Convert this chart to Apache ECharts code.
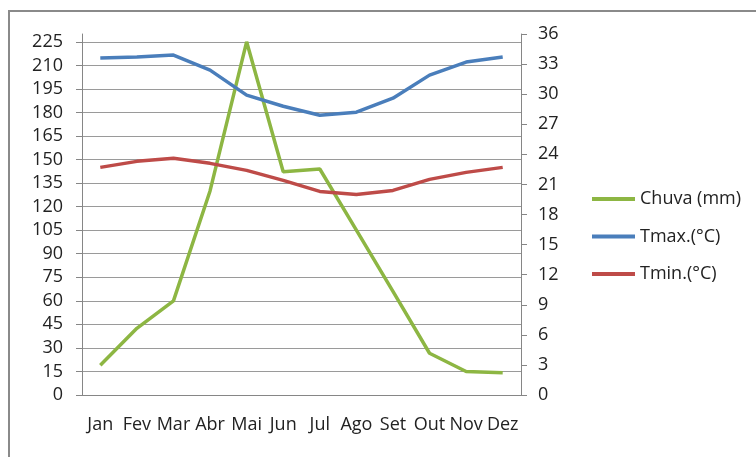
<!DOCTYPE html>
<html><head><meta charset="utf-8">
<script src="https://cdn.jsdelivr.net/npm/echarts@6/dist/echarts.min.js"></script>
<style>html,body{margin:0;padding:0;background:#fff}#c{width:756px;height:457px}</style>
</head><body><div id="c"></div>
<script>
const months = ['Jan','Fev','Mar','Abr','Mai','Jun','Jul','Ago','Set','Out','Nov','Dez'];
const chuva = [19, 42.5, 60, 130, 225, 142.3, 144, 105, 66, 26.6, 15, 14.2];
const tmax = [33.6, 33.7, 33.9, 32.4, 29.9, 28.8, 27.9, 28.2, 29.6, 31.9, 33.2, 33.7];
const tmin = [22.7, 23.3, 23.6, 23.1, 22.4, 21.4, 20.3, 20.0, 20.4, 21.5, 22.2, 22.7];
const names = ['Chuva (mm)', 'Tmax.(°C)', 'Tmin.(°C)'];

const chart = echarts.init(document.getElementById('c'));
const axisCol = '#868686';
const font = 'Open Sans';
chart.setOption({
  animation: false,
  textStyle: {fontFamily: font},
  graphic: [{type:'rect', shape:{x:9, y:11, width:800, height:500}, style:{fill:'none', stroke:'#8a8a8a', lineWidth:2}, silent:true}],
  grid: {left: 82, right: 235, top: 34, bottom: 62},
  legend: {
    orient: 'vertical', left: 592, top: 189, padding: 0,
    icon: 'rect', itemWidth: 43, itemHeight: 4, itemGap: 17.5,
    textStyle: {fontFamily: font, fontSize: 18, color: '#222', lineHeight: 20},
    data: names
  },
  xAxis: {
    type: 'category', data: months, boundaryGap: true,
    axisLine: {lineStyle: {color: axisCol}},
    axisTick: {length: 6, lineStyle: {color: axisCol}},
    axisLabel: {fontFamily: font, fontSize: 18, color: '#222', margin: 21, interval: 0}
  },
  yAxis: [{
    type: 'value', min: 0, max: 230, interval: 15,
    axisLine: {show: true, lineStyle: {color: axisCol}},
    axisTick: {show: true, length: 6, lineStyle: {color: axisCol}},
    axisLabel: {fontFamily: font, fontSize: 18, color: '#222', margin: 19, showMaxLabel: false},
    splitLine: {show: true, showMaxLine: false, lineStyle: {color: '#9a9a9a', width: 1}}
  }, {
    type: 'value', min: 0, max: 36, interval: 3, position: 'right',
    axisLine: {show: true, lineStyle: {color: axisCol}},
    axisTick: {show: true, length: 6, lineStyle: {color: axisCol}},
    axisLabel: {fontFamily: font, fontSize: 18, color: '#222', margin: 17},
    splitLine: {show: false}
  }],
  series: [
    {name: names[0], type: 'line', yAxisIndex: 0, data: chuva, symbol: 'none', lineStyle: {color: '#8DB643', width: 3.5}, itemStyle: {color: '#8DB643'}},
    {name: names[1], type: 'line', yAxisIndex: 1, data: tmax, symbol: 'none', lineStyle: {color: '#4A7EBB', width: 3.5}, itemStyle: {color: '#4A7EBB'}},
    {name: names[2], type: 'line', yAxisIndex: 1, data: tmin, symbol: 'none', lineStyle: {color: '#BE4B48', width: 3.5}, itemStyle: {color: '#BE4B48'}}
  ]
});
</script></body></html>
